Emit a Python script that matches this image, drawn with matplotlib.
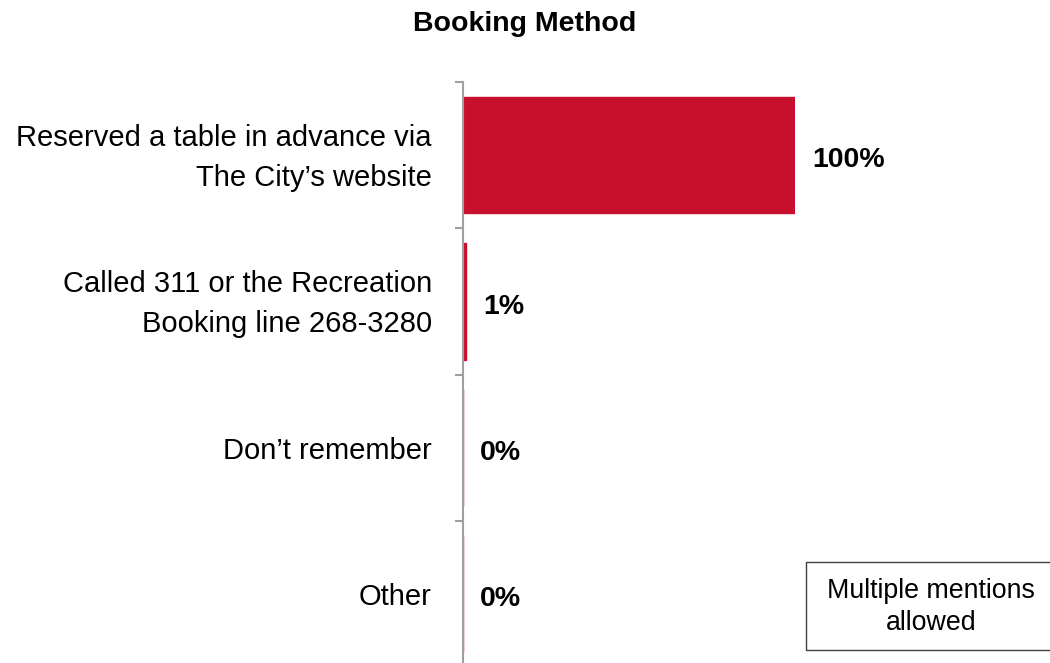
import matplotlib.pyplot as plt
import matplotlib.patches as patches
from matplotlib.transforms import blended_transform_factory, offset_copy

# Данные
categories = ["Reserved a table in advance via\nThe City\u2019s website",
              "Called 311 or the Recreation\nBooking line 268-3280",
              "Don\u2019t remember",
              "Other"]
values = [100, 1, 0, 0]

plt.rcParams['font.family'] = ['Liberation Sans', 'DejaVu Sans']

W, H = 1050, 663
fig = plt.figure(figsize=(W / 100, H / 100), dpi=100)

# Оси: левый край 463 px, верх 82 px, правый край (100%) 795 px
ax = fig.add_axes([463 / W, -4 / H, (795 - 463) / W, (663 - 82 + 4) / H])

pos = list(range(len(categories)))
ax.barh(pos, values, height=0.795, color='#C8102E', edgecolor='#C8102E',
        linewidth=1.0)
ax.set_xlim(0, 100)
ax.set_ylim(len(categories) - 0.5, -0.5)

# Подписи значений
for p, v in zip(pos, values):
    ax.annotate(f"{v}%", xy=(v, p), xytext=(12.5, -3.8), textcoords='offset points',
                ha='left', va='center', fontsize=20.5, fontweight='bold',
                annotation_clip=False)

# Подписи категорий
trans = blended_transform_factory(fig.transFigure, ax.transData)
trans = offset_copy(trans, fig=fig, x=0, y=-2.2, units='points')
for p, c in zip(pos, categories):
    fig.text(432 / W, p, c, transform=trans, ha='right', va='center',
             multialignment='right', fontsize=21, linespacing=1.55)

# Ось и деления на границах категорий
for s in ['top', 'right', 'bottom']:
    ax.spines[s].set_visible(False)
ax.spines['left'].set_color('#A0A0A0')
ax.spines['left'].set_linewidth(1.5)
ax.set_yticks([p - 0.5 for p in pos] + [len(pos) - 0.5])
ax.set_yticklabels([])
ax.tick_params(axis='y', length=6, width=1.5, color='#A0A0A0')
ax.set_xticks([])
ax.patch.set_visible(False)

# Заголовок
fig.text(0.5, 1 - 24 / H, "Booking Method", ha='center', va='center',
         fontsize=20.5, fontweight='bold')

# Рамка с примечанием
rect = patches.Rectangle((806 / W, 1 - 650 / H), 260 / W, 88 / H,
                         transform=fig.transFigure, fill=False,
                         edgecolor='#404040', linewidth=1)
fig.patches.append(rect)
fig.text(931 / W, 1 - 607 / H, "Multiple mentions\nallowed", ha='center',
         va='center', fontsize=19.3, linespacing=1.35)

fig.savefig('out.png', dpi=100)
